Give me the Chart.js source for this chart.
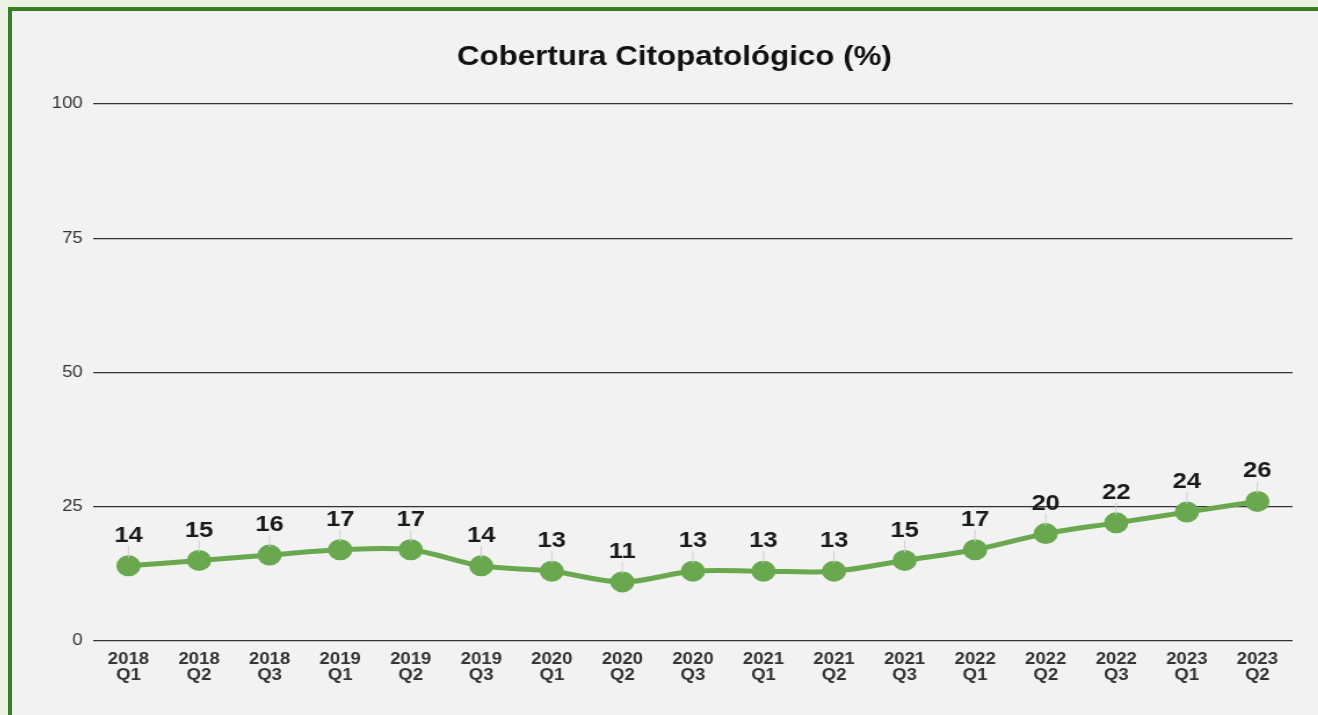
<!DOCTYPE html>
<html>
<head>
<meta charset="utf-8">
<script src="https://cdn.jsdelivr.net/npm/chart.js@4"></script>
<style>
	html, body { margin: 0; padding: 0; }
	body { width: 1318px; height: 715px; background: #eaf3e3; overflow: hidden; position: relative; }
	#rahmen {
		position: absolute; left: 8px; top: 7px; width: 1306px; height: 704px;
		border-left: 4px solid #3b7d23; border-top: 4px solid #3b7d23;
		background: #f2f2f2; overflow: hidden;
	}
	/* Vorlage ist horizontal gestreckt */
	#chart { display: block; transform: scaleX(1.16); transform-origin: 0 0; }
</style>
</head>
<body>
<div id="rahmen"><canvas id="chart" width="1126" height="704"></canvas></div>
<script>
// Daten
const kategorien = [
	["2018", "Q1"], ["2018", "Q2"], ["2018", "Q3"],
	["2019", "Q1"], ["2019", "Q2"], ["2019", "Q3"],
	["2020", "Q1"], ["2020", "Q2"], ["2020", "Q3"],
	["2021", "Q1"], ["2021", "Q2"], ["2021", "Q3"],
	["2022", "Q1"], ["2022", "Q2"], ["2022", "Q3"],
	["2023", "Q1"], ["2023", "Q2"]
];
const cobertura = [14, 15, 16, 17, 17, 14, 13, 11, 13, 13, 13, 15, 17, 20, 22, 24, 26];
const yTicks = [0, 25, 50, 75, 100];
const titel = "Cobertura Citopatológico (%)";

const schrift = "'Liberation Sans', Arial, sans-serif";

// Titel etwas rechts von der Mitte, wie in der Vorlage
const titelPlugin = {
	id: "titelPlugin",
	afterDraw(chart) {
		const ctx = chart.ctx;
		ctx.save();
		ctx.fillStyle = "#111";
		ctx.font = "bold 27px " + schrift;
		ctx.textAlign = "center";
		ctx.textBaseline = "middle";
		ctx.fillText(titel, chart.width / 2 + 8, 47);
		ctx.restore();
	}
};

// Werte über den Punkten mit kleiner Hilfslinie
const wertLabels = {
	id: "wertLabels",
	afterDatasetsDraw(chart) {
		const ctx = chart.ctx;
		const meta = chart.getDatasetMeta(0);
		ctx.save();
		meta.data.forEach((pt, i) => {
			ctx.strokeStyle = "#d0d0d0";
			ctx.lineWidth = 1;
			ctx.beginPath();
			ctx.moveTo(pt.x, pt.y - 8);
			ctx.lineTo(pt.x, pt.y - 20);
			ctx.stroke();
			ctx.fillStyle = "#1a1a1a";
			ctx.font = "bold 22px " + schrift;
			ctx.textAlign = "center";
			ctx.textBaseline = "middle";
			ctx.fillText(cobertura[i], pt.x, pt.y - 30);
		});
		ctx.restore();
	}
};

new Chart(document.getElementById("chart"), {
	type: "line",
	data: {
		labels: kategorien,
		datasets: [{
			data: cobertura,
			borderColor: "#6aa84f",
			backgroundColor: "#6aa84f",
			borderWidth: 5,
			pointRadius: 8,
			pointHoverRadius: 8,
			tension: 0.35
		}]
	},
	options: {
		responsive: false,
		animation: false,
		layout: { padding: { left: 0, right: 22, top: 93, bottom: 0 } },
		scales: {
			y: {
				min: 0,
				max: 100,
				afterBuildTicks: scale => { scale.ticks = yTicks.map(v => ({ value: v })); },
				afterFit: scale => { scale.width = 70; },
				ticks: {
					color: "#333",
					padding: 9,
					font: { family: schrift, size: 16 }
				},
				grid: { color: "#333", lineWidth: 1.3, drawTicks: false },
				border: { display: false }
			},
			x: {
				offset: true,
				afterFit: scale => { scale.height = 74; },
				ticks: {
					color: "#333",
					padding: 2,
					maxRotation: 0,
					autoSkip: false,
					font: { family: schrift, size: 16, weight: "bold", lineHeight: 1.02 }
				},
				grid: { display: false },
				border: { display: false }
			}
		},
		plugins: {
			legend: { display: false },
			tooltip: { enabled: false },
			title: { display: false }
		}
	},
	plugins: [wertLabels, titelPlugin]
});
</script>
</body>
</html>
